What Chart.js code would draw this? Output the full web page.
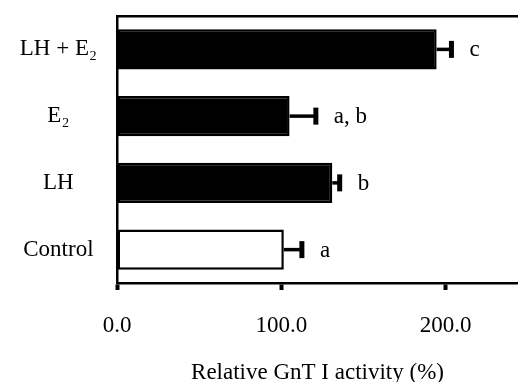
<!DOCTYPE html>
<html>
<head>
<meta charset="utf-8">
<script src="https://cdn.jsdelivr.net/npm/chart.js@4.4.0/dist/chart.umd.min.js"></script>
<style>
  html, body { margin: 0; padding: 0; background: #fff; }
  #wrap { width: 518px; height: 382px; }
</style>
</head>
<body>
<div id="wrap"><canvas id="chart"></canvas></div>
<script>
const groups = ["LH + E\u2082", "E\u2082", "LH", "Control"];
const activity = [194.5, 105, 131, 101.5];
const errors = [9, 16, 4.5, 11];
const sigLetters = ["c", "a, b", "b", "a"];
const barFills = ["#000", "#000", "#000", "#fff"];
const xTicks = [0, 100, 200];

const serif = "'Liberation Serif', 'Times New Roman', serif";

// error bars + significance letters
const errorBars = {
  id: "errorBars",
  afterDatasetsDraw(chart) {
    const ctx = chart.ctx;
    const x = chart.scales.x;
    const meta = chart.getDatasetMeta(0);
    ctx.save();
    ctx.strokeStyle = "#000";
    ctx.fillStyle = "#000";
    meta.data.forEach((bar, i) => {
      const x0 = x.getPixelForValue(activity[i]);
      const x1 = x.getPixelForValue(activity[i] + errors[i]);
      const y = bar.y;
      ctx.lineWidth = 3.5;
      ctx.beginPath();
      ctx.moveTo(x0, y);
      ctx.lineTo(x1, y);
      ctx.stroke();
      ctx.lineWidth = 5;
      ctx.beginPath();
      ctx.moveTo(x1, y - 8.5);
      ctx.lineTo(x1, y + 8.5);
      ctx.stroke();
      ctx.font = "23px " + serif;
      ctx.textAlign = "left";
      ctx.textBaseline = "middle";
      ctx.fillText(sigLetters[i], x1 + 18, y + 1);
    });
    ctx.restore();
  }
};

new Chart(document.getElementById("chart"), {
  type: "bar",
  data: {
    labels: groups,
    datasets: [{
      data: activity,
      backgroundColor: barFills,
      borderColor: "#000",
      borderWidth: 2.5,
      borderSkipped: false,
      categoryPercentage: 1,
      barPercentage: 0.6
    }]
  },
  options: {
    indexAxis: "y",
    responsive: true,
    maintainAspectRatio: false,
    animation: false,
    layout: { padding: { left: 15, top: 16, right: 0, bottom: 0 } },
    plugins: { legend: { display: false }, tooltip: { enabled: false } },
    scales: {
      x: {
        min: 0,
        max: 244,
        afterBuildTicks(scale) { scale.ticks = xTicks.map(v => ({ value: v })); },
        afterFit(scale) { scale.height = 99; },
        border: { display: true, color: "#000", width: 2.5 },
        grid: { drawOnChartArea: false, drawTicks: true, tickLength: 7, tickWidth: 4, tickColor: "#000" },
        ticks: {
          color: "#000",
          padding: 22,
          font: { family: serif, size: 23 },
          callback: v => Number(v).toFixed(1)
        },
        title: {
          display: true,
          text: "Relative GnT I activity (%)",
          color: "#000",
          font: { family: serif, size: 23 },
          padding: { top: 0, bottom: -5 }
        }
      },
      x2: {
        position: "top",
        min: 0,
        max: 244,
        afterFit(scale) { scale.height = 0; },
        border: { display: true, color: "#000", width: 2.5 },
        grid: { display: false },
        ticks: { display: false }
      },
      y: {
        afterFit(scale) {
          scale.width = 102;
          scale.paddingTop = 0;
          scale.paddingBottom = 0;
        },
        border: { display: true, color: "#000", width: 2.5 },
        grid: { drawOnChartArea: false, drawTicks: false },
        ticks: {
          color: "#000",
          padding: 20,
          crossAlign: "center",
          font: { family: serif, size: 23 }
        }
      }
    }
  },
  plugins: [errorBars]
});
</script>
</body>
</html>
